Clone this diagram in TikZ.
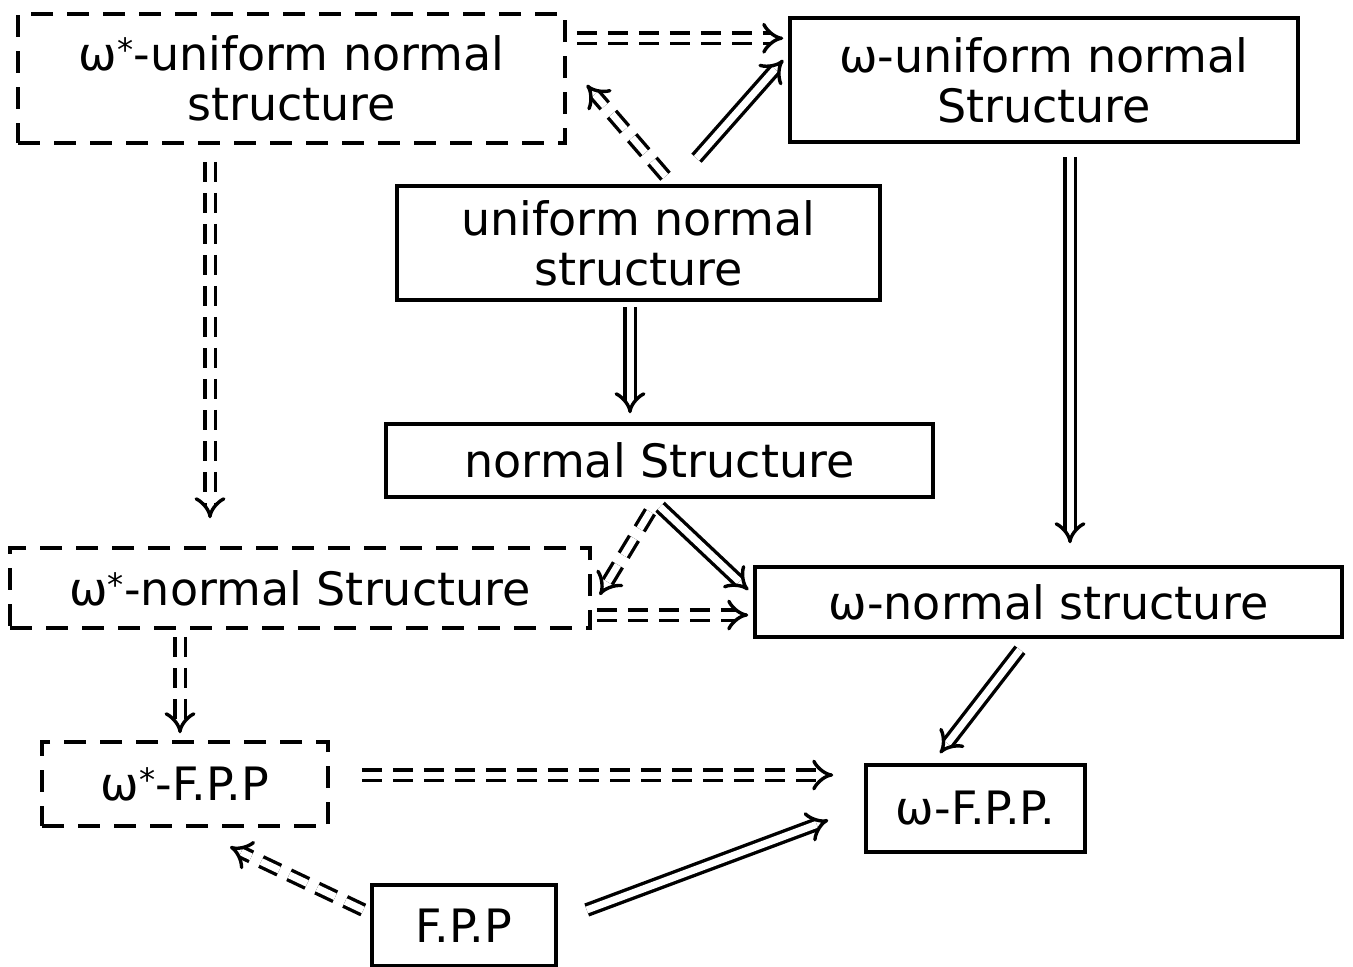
\documentclass[tikz,border=0pt]{standalone}
\usepackage{fontspec}
\setmainfont{DejaVu Sans}
\usetikzlibrary{arrows.meta,calc}
\begin{document}
\begin{tikzpicture}[x=1pt,y=-1pt,
  box/.style={draw,line width=3.5pt,minimum width=#1,inner sep=0pt,align=center,
    font=\fontsize{46}{50}\selectfont},
  dbox/.style={box=#1,dash pattern=on 22pt off 14pt},
  imp/.style={double,double distance=7pt,line width=3.4pt,-{Implies[scale=1.6]}},
  dimp/.style={imp,dash pattern=on 20pt off 11pt}]
\useasboundingbox (0,0) rectangle (1353,967);
\node[dbox=547pt,minimum height=129pt] (w1) at (291.5,78.5) {ω\textsuperscript{*}-uniform normal\\structure};
\node[box=508pt,minimum height=124pt] (o1) at (1044,80) {ω-uniform normal\\Structure};
\node[box=483pt,minimum height=114pt] (u) at (638.5,243) {uniform normal\\structure};
\node[box=547pt,minimum height=73pt] (n) at (659.5,460.5) {normal Structure};
\node[dbox=580pt,minimum height=80pt] (w5) at (300,588) {ω\textsuperscript{*}-normal Structure};
\node[box=587pt,minimum height=70pt] (o6) at (1048.5,602) {ω-normal structure};
\node[dbox=286pt,minimum height=84pt] (w7) at (185,784) {ω\textsuperscript{*}-F.P.P};
\node[box=219pt,minimum height=87pt] (o8) at (975.5,808.5) {ω-F.P.P.};
\node[box=184pt,minimum height=81pt] (f) at (464,925.5) {F.P.P};
% arrows
\draw[dimp] ($(w1.north east)+(10,26)$) -- ($(o1.north west)+(-5,22)$);
\draw[dimp] ($(u.north)+(27,-8)$) -- ($(w1.east)+(20,6.5)$);
\draw[imp] ($(u.north)+(58,-26)$) -- ($(o1.west)+(-5,-20)$);
\draw[dimp] ($(w1.south)+(-81.5,17)$) -- ($(w5.north)+(-90,-28)$);
\draw[imp] ($(u.south)+(-8.5,5)$) -- ($(n.north)+(-29.5,-9)$);
\draw[imp] ($(o1.south)+(26,13)$) -- ($(o6.north)+(21.5,-22)$);
\draw[dimp] ($(n.south)+(-9.5,13)$) -- ($(w5.east)+(8,7)$);
\draw[imp] ($(n.south)+(0.5,8)$) -- ($(o6.west)+(-5,-12)$);
\draw[dimp] ($(w5.east)+(5,27)$) -- ($(o6.west)+(-5,13)$);
\draw[dimp] ($(w5.south)+(-120,7)$) -- ($(w7.north)+(-5,-7)$);
\draw[imp] ($(o6.south)+(-28.5,11)$) -- ($(o8.north)+(-35.5,-10)$);
\draw[dimp] ($(w7.east)+(32,-9)$) -- ($(o8.west)+(-31,-33.5)$);
\draw[dimp] ($(f.west)+(-7,-15.5)$) -- ($(w7.south)+(45,19)$);
\draw[imp] ($(f.east)+(29,-15.5)$) -- ($(o8.west)+(-36,11.5)$);
\end{tikzpicture}
\end{document}
